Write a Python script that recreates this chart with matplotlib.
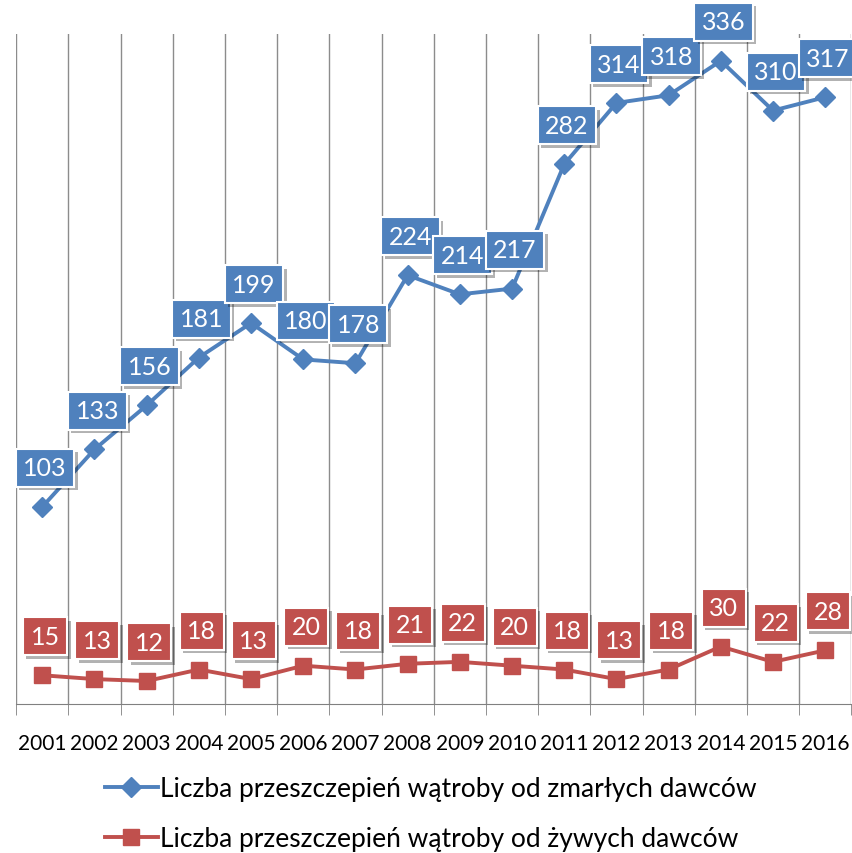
import numpy as np
import matplotlib
matplotlib.use('Agg')
import matplotlib.pyplot as plt
import matplotlib.patheffects as pe

years = ['2001', '2002', '2003', '2004', '2005', '2006', '2007', '2008',
         '2009', '2010', '2011', '2012', '2013', '2014', '2015', '2016']
zmarli = [103, 133, 156, 181, 199, 180, 178, 224, 214, 217, 282, 314, 318, 336, 310, 317]
zywi = [15, 13, 12, 18, 13, 20, 18, 21, 22, 20, 18, 13, 18, 30, 22, 28]
labels = ['Liczba przeszczepień wątroby od zmarłych dawców',
          'Liczba przeszczepień wątroby od żywych dawców']

blue = '#4F81BD'
red = '#C0504D'
plt.rcParams['font.family'] = ['Lato', 'DejaVu Sans']

fig = plt.figure(figsize=(8.53, 8.54), dpi=100)
ax = fig.add_axes([0.019, 0.1745, 0.979, 0.7845])
x = np.arange(len(years))

ax.plot(x, zmarli, '-D', color=blue, lw=2.8, ms=10, label=labels[0])
ax.plot(x, zywi, '-s', color=red, lw=2.8, ms=12, label=labels[1])

def add_labels(vals, col):
    for xi, v in zip(x, vals):
        t = ax.annotate(str(v), (xi, v), xytext=(2, 28), textcoords='offset points',
                        ha='center', va='center', color='white', fontsize=18,
                        bbox=dict(boxstyle='square,pad=0.3', fc=col, ec='white', lw=1.5))
        t.get_bbox_patch().set_path_effects([
            pe.SimplePatchShadow(offset=(2.5, -2.5), shadow_rgbFace='black', alpha=0.3),
            pe.Normal()])

add_labels(zmarli, blue)
add_labels(zywi, red)

ax.set_xlim(-0.5, len(years) - 0.5)
ax.set_ylim(0, 350)
ax.set_xticks(x)
ax.set_xticklabels(years, fontsize=15)
ax.set_xticks(np.arange(-0.5, len(years), 1), minor=True)
ax.tick_params(axis='x', which='major', length=0, pad=21)
ax.tick_params(axis='x', which='minor', length=8, color='#808080')
ax.grid(True, which='minor', axis='x', color='#8c8c8c', lw=1)
ax.set_yticks([])
for s in ['top', 'right', 'left']:
    ax.spines[s].set_visible(False)
ax.spines['bottom'].set_color('#808080')

fig.legend(loc='center', bbox_to_anchor=(0.505, 0.046), ncol=1, frameon=False,
           fontsize=19, handlelength=2.0, handletextpad=0.1, labelspacing=0.95)

fig.savefig('out.png', dpi=100)
